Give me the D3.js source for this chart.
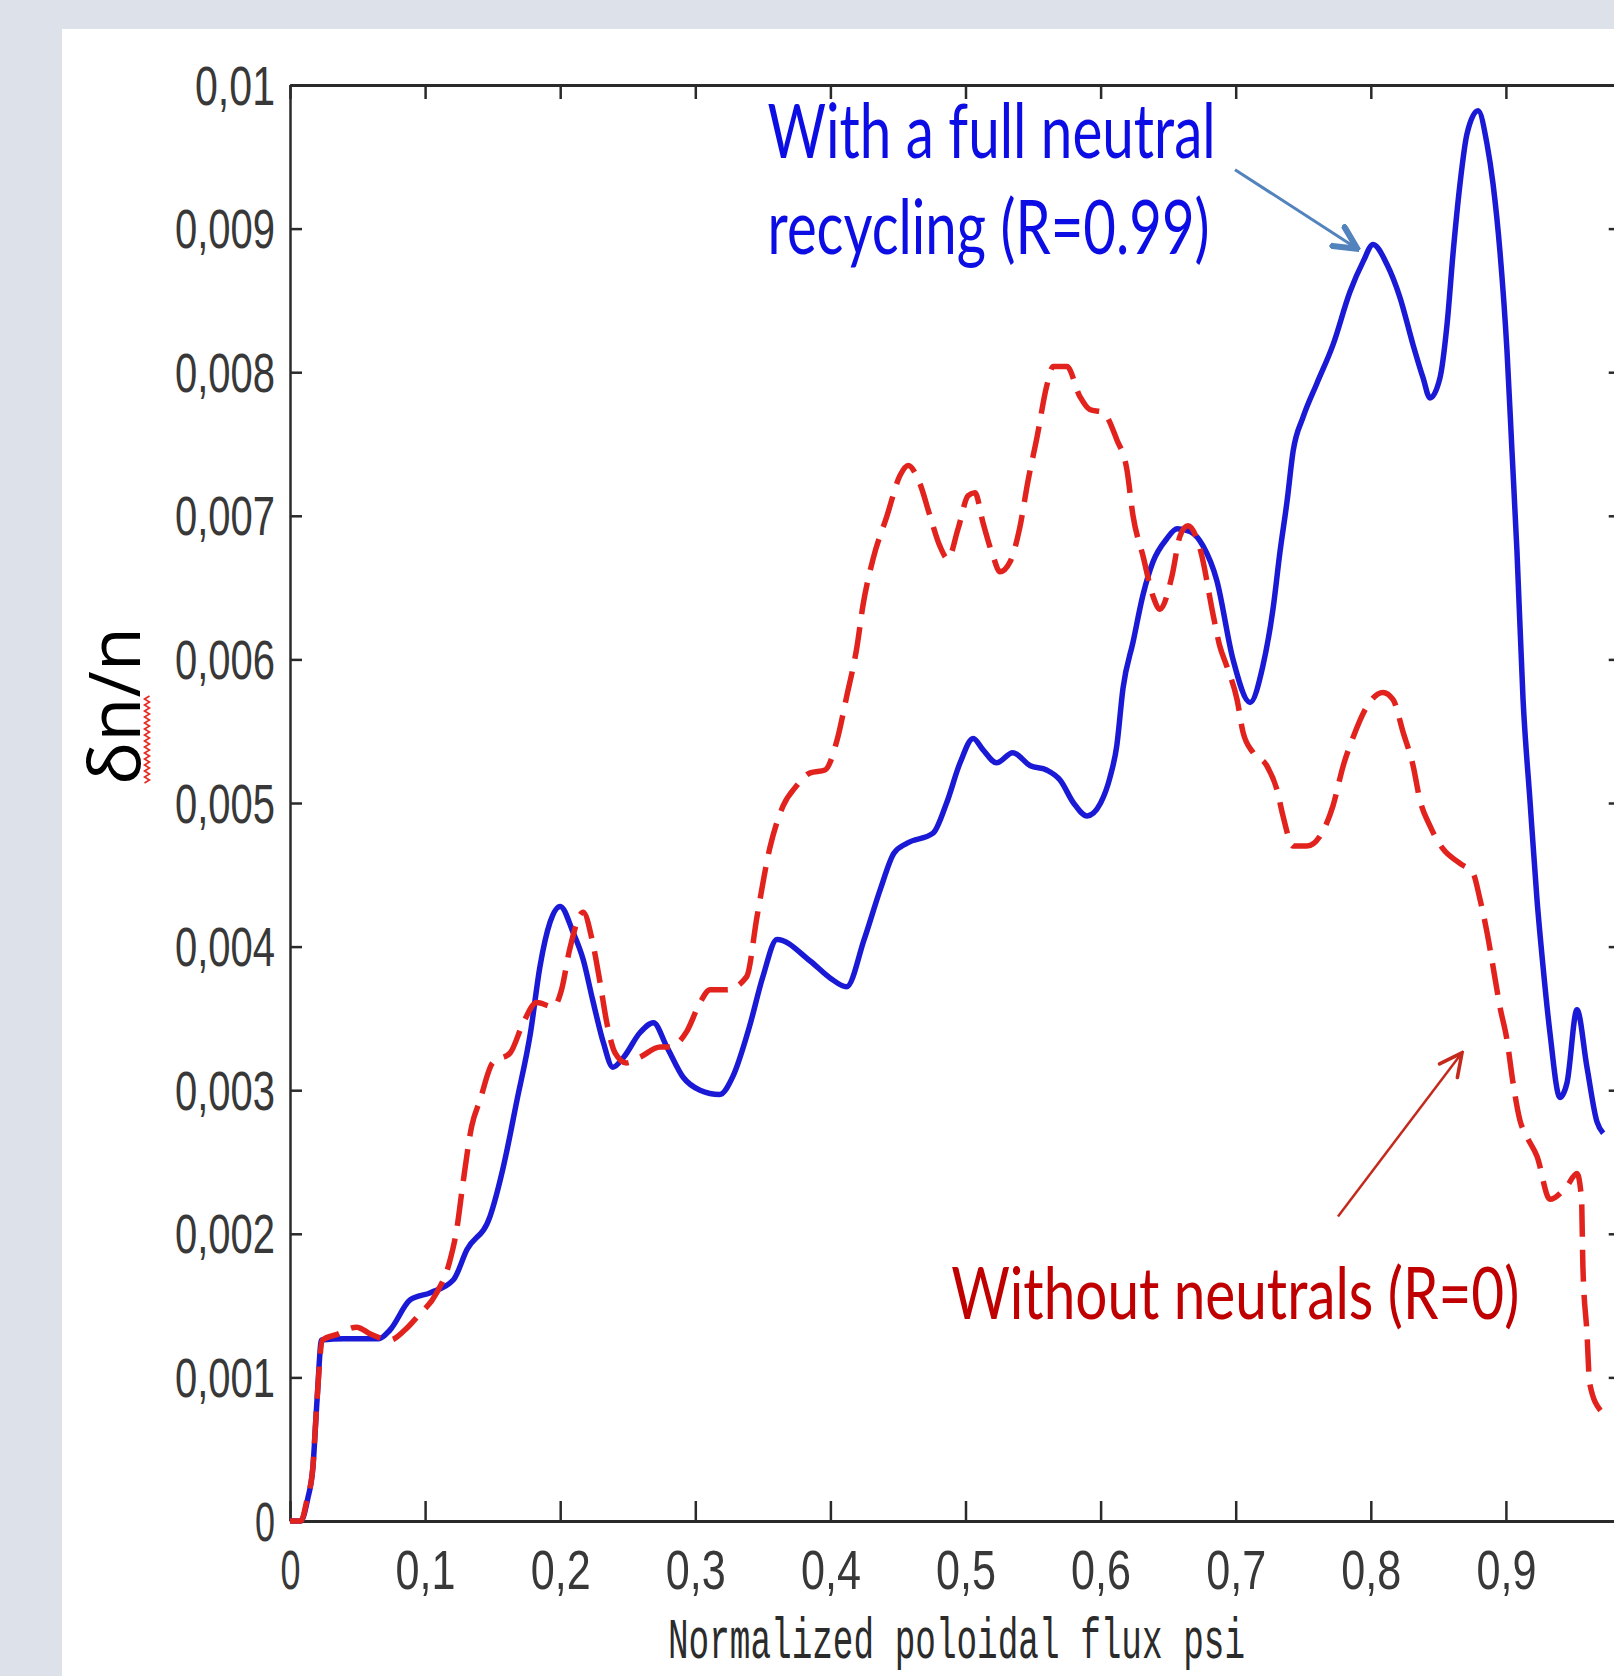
<!DOCTYPE html>
<html>
<head>
<meta charset="utf-8">
<script src="https://cdn.jsdelivr.net/npm/d3@7"></script>
<style>
  body { margin: 0; background: #dde2ea; }
</style>
</head>
<body>
<div id="chart"></div>
<script>
// psi values and dn/n values (dn/n in units of 1e-3)
var blueX = [0, 0.008, 0.013, 0.017, 0.020, 0.0234, 0.04, 0.066, 0.074, 0.089, 0.104, 0.121, 0.131, 0.148, 0.158, 0.168, 0.178, 0.185, 0.1925, 0.200,
  0.2095, 0.217, 0.224, 0.232, 0.239, 0.247, 0.259, 0.269, 0.279, 0.291, 0.3035, 0.318, 0.328, 0.340, 0.350, 0.3605, 0.385, 0.400, 0.412, 0.425,
  0.437, 0.447, 0.4567, 0.476, 0.486, 0.496, 0.5057, 0.513, 0.523, 0.535, 0.548, 0.560, 0.570, 0.580, 0.590, 0.600, 0.607, 0.612, 0.6166, 0.624,
  0.6314, 0.6388, 0.649, 0.6566, 0.6662, 0.6758, 0.686, 0.698, 0.7106, 0.720, 0.7276, 0.7328, 0.738, 0.7425, 0.750, 0.760, 0.772, 0.7846, 0.7943, 0.8017,
  0.812, 0.8216, 0.8313, 0.8387, 0.8438, 0.8512, 0.8564, 0.861, 0.866, 0.8712, 0.8794, 0.886, 0.8905, 0.8956, 0.9008, 0.9045, 0.9082, 0.9127, 0.9178, 0.9230,
  0.9275, 0.9326, 0.940, 0.9452, 0.9526, 0.960, 0.9674, 0.972];
var blueY = [0, 0, 0.15, 0.38, 0.84, 1.26, 1.27, 1.27, 1.33, 1.54, 1.59, 1.68, 1.89, 2.12, 2.47, 2.93, 3.40, 3.86, 4.17, 4.28,
  4.10, 3.91, 3.63, 3.33, 3.16, 3.23, 3.40, 3.47, 3.30, 3.09, 3.00, 2.97, 3.10, 3.44, 3.79, 4.05, 3.90, 3.78, 3.72, 4.05,
  4.40, 4.65, 4.72, 4.79, 5.00, 5.28, 5.45, 5.37, 5.28, 5.35, 5.26, 5.23, 5.16, 5.00, 4.91, 5.00, 5.18, 5.40, 5.80, 6.12,
  6.45, 6.68, 6.84, 6.91, 6.89, 6.79, 6.55, 6.00, 5.70, 5.95, 6.35, 6.75, 7.10, 7.45, 7.69, 7.92, 8.19, 8.56, 8.77, 8.89,
  8.75, 8.52, 8.19, 7.96, 7.82, 7.96, 8.33, 8.84, 9.31, 9.66, 9.82, 9.59, 9.31, 8.84, 8.15, 7.45, 6.75, 5.72, 5.02, 4.33,
  3.86, 3.40, 2.95, 3.05, 3.56, 3.16, 2.78, 2.70];

var redX = [0, 0.008, 0.0126, 0.017, 0.0185, 0.020, 0.024, 0.035, 0.0493, 0.060, 0.074, 0.085, 0.094, 0.1086, 0.118, 0.1234, 0.128, 0.1345, 0.1406, 0.150,
  0.163, 0.1727, 0.1826, 0.195, 0.201, 0.207, 0.217, 0.224, 0.2295, 0.2345, 0.2406, 0.249, 0.259, 0.274, 0.281, 0.2937, 0.3035, 0.311, 0.3235, 0.338,
  0.3457, 0.355, 0.365, 0.375, 0.385, 0.396, 0.405, 0.412, 0.4197, 0.424, 0.4316, 0.4419, 0.4515, 0.4575, 0.466, 0.4737, 0.481, 0.487, 0.4945, 0.502,
  0.507, 0.513, 0.5204, 0.5255, 0.533, 0.540, 0.5464, 0.553, 0.560, 0.565, 0.575, 0.5847, 0.592, 0.6018, 0.612, 0.6195, 0.624, 0.6314, 0.6388, 0.644,
  0.6528, 0.6588, 0.6647, 0.6736, 0.6835, 0.688, 0.6935, 0.701, 0.7055, 0.713, 0.723, 0.7306, 0.735, 0.7425, 0.7527, 0.7624, 0.772, 0.7796, 0.787, 0.797,
  0.809, 0.8165, 0.824, 0.8313, 0.8364, 0.8438, 0.8535, 0.866, 0.8757, 0.8808, 0.886, 0.8905, 0.8956, 0.9008, 0.9053, 0.9104, 0.9153, 0.923, 0.9326, 0.945,
  0.9526, 0.956, 0.957, 0.960, 0.962, 0.970];
var redY = [0, 0, 0.15, 0.38, 0.61, 0.84, 1.26, 1.30, 1.35, 1.30, 1.26, 1.33, 1.42, 1.59, 1.80, 2.03, 2.35, 2.75, 2.93, 3.19,
  3.26, 3.47, 3.61, 3.58, 3.70, 3.98, 4.24, 4.03, 3.75, 3.47, 3.26, 3.19, 3.23, 3.30, 3.30, 3.41, 3.61, 3.70, 3.70, 3.79,
  4.21, 4.68, 4.98, 5.12, 5.21, 5.23, 5.44, 5.74, 6.09, 6.37, 6.70, 7.00, 7.28, 7.35, 7.23, 7.00, 6.79, 6.70, 6.91, 7.14,
  7.16, 6.95, 6.72, 6.61, 6.68, 6.91, 7.25, 7.55, 7.90, 8.04, 8.04, 7.83, 7.74, 7.72, 7.53, 7.32, 7.00, 6.72, 6.44, 6.35,
  6.58, 6.86, 6.93, 6.77, 6.30, 6.10, 5.95, 5.72, 5.49, 5.35, 5.26, 5.09, 4.91, 4.70, 4.70, 4.77, 4.98, 5.26, 5.46, 5.67,
  5.77, 5.72, 5.49, 5.26, 5.02, 4.84, 4.68, 4.58, 4.51, 4.33, 4.10, 3.86, 3.58, 3.35, 3.05, 2.79, 2.68, 2.54, 2.24, 2.33,
  2.42, 2.24, 1.77, 1.31, 0.96, 0.77];

var xTicks = [0, 0.1, 0.2, 0.3, 0.4, 0.5, 0.6, 0.7, 0.8, 0.9];
var yTicks = [0, 1, 2, 3, 4, 5, 6, 7, 8, 9, 10];

var blueLabel = ["With a full neutral", "recycling (R=0.99)"];
var redLabel = "Without neutrals (R=0)";

var w = 1614;
var h = 1676;
var margin = { top: 85, left: 290, bottom: 155 };
var innerHeight = h - margin.top - margin.bottom;
var innerWidth = 1351; // psi = 1 sits past the window edge
var xMax = 0.985;      // right frame of the plot box

var charW = 20;        // tick glyphs are tall and narrow
var tickFont = "Liberation Sans, Arial, sans-serif";

var svg = d3.select("#chart")
  .append("svg")
  .attr("width", w)
  .attr("height", h);

svg.append("rect").attr("width", w).attr("height", h).attr("fill", "#dde2ea");
svg.append("rect").attr("x", 62).attr("y", 29).attr("width", w - 62).attr("height", h - 29).attr("fill", "#ffffff");

var xScale = d3.scaleLinear().domain([0, 1]).range([0, innerWidth]);
var yScale = d3.scaleLinear().domain([0, 10]).range([innerHeight, 0]);

var g = svg.append("g")
  .attr("transform", "translate(" + margin.left + "," + margin.top + ")");

var fmtY = function(d) { return d === 0 ? "0" : String(+(d / 1000).toFixed(3)).replace(".", ","); };
var fmtX = function(d) { return d === 0 ? "0" : String(d).replace(".", ","); };

// bottom axis
var xAxis = g.append("g")
  .attr("class", "x-axis")
  .attr("transform", "translate(0," + innerHeight + ")")
  .call(d3.axisBottom(xScale).tickValues(xTicks).tickSize(-20).tickSizeOuter(0).tickFormat(fmtX));

// top axis
var topAxis = g.append("g")
  .call(d3.axisTop(xScale).tickValues(xTicks).tickSize(-14).tickSizeOuter(0));

// left axis
var yAxis = g.append("g")
  .attr("class", "y-axis")
  .call(d3.axisLeft(yScale).tickValues(yTicks).tickSize(-12).tickSizeOuter(0).tickFormat(fmtY));

// right axis (only its ticks reach into the window)
var rightAxis = g.append("g")
  .attr("transform", "translate(" + xScale(xMax) + ",0)")
  .call(d3.axisRight(yScale).tickValues(yTicks).tickSize(-12).tickSizeOuter(0));

// the top and right frames carry no labels
topAxis.selectAll(".tick text").remove();
rightAxis.selectAll(".tick text").remove();

[xAxis, topAxis, yAxis, rightAxis].forEach(function(a) {
  a.select(".domain").attr("stroke", "#2a2a2a").attr("stroke-width", 3);
  a.selectAll(".tick line").attr("stroke", "#2a2a2a").attr("stroke-width", 2.5);
});
yAxis.select(".domain").attr("stroke-width", 2.5);

xAxis.selectAll(".tick text")
  .attr("y", 68)
  .attr("dy", null)
  .attr("font-family", tickFont)
  .attr("font-size", 55)
  .attr("fill", "#383838")
  .attr("textLength", d => fmtX(d).length * charW)
  .attr("lengthAdjust", "spacingAndGlyphs");

yAxis.selectAll(".tick text")
  .attr("x", -15)
  .attr("y", 19)
  .attr("dy", null)
  .attr("font-family", tickFont)
  .attr("font-size", 55)
  .attr("fill", "#383838")
  .attr("textLength", d => fmtY(d).length * charW)
  .attr("lengthAdjust", "spacingAndGlyphs");

// x axis title
g.append("text")
  .attr("x", 378)
  .attr("y", innerHeight + 137)
  .attr("font-family", "Liberation Mono, DejaVu Sans Mono, monospace")
  .attr("font-size", 58)
  .attr("fill", "#2b2b2b")
  .attr("textLength", 577)
  .attr("lengthAdjust", "spacingAndGlyphs")
  .text("Normalized poloidal flux psi");

// y axis title with its spell-check squiggle
var yTitle = svg.append("g")
  .attr("transform", "translate(140,706) rotate(-90)");
var yText = yTitle.append("text")
  .attr("text-anchor", "middle")
  .attr("font-family", "Open Sans, Noto Sans, sans-serif")
  .attr("font-size", 72)
  .attr("fill", "#000")
  .text("δn/n");
var tw = yText.node().getComputedTextLength();
var squiggle = [];
for (var i = 0; i <= 29; i++) {
  squiggle.push([-tw / 2 + 2 + i * 3, 7 + (i % 2 === 0 ? -2.5 : 2.5)]);
}
yTitle.append("path")
  .attr("d", d3.line()(squiggle))
  .attr("fill", "none")
  .attr("stroke", "#e8281e")
  .attr("stroke-width", 1.6);

// curves
var line = d3.line()
  .curve(d3.curveMonotoneX)
  .x(d => xScale(d[0]))
  .y(d => yScale(d[1]));

var blueData = blueX.map((x, i) => [x, blueY[i]]);
var redData = redX.map((x, i) => [x, redY[i]]);

g.append("path")
  .datum(blueData)
  .attr("d", line)
  .attr("fill", "none")
  .attr("stroke", "#1a1ad6")
  .attr("stroke-width", 5.5)
  .attr("stroke-linejoin", "round");

g.append("path")
  .datum(redData)
  .attr("d", line)
  .attr("fill", "none")
  .attr("stroke", "#e2231d")
  .attr("stroke-width", 5.5)
  .attr("stroke-dasharray", "32 13")
  .attr("stroke-linejoin", "round");

// annotations
var defs = svg.append("defs");
function arrowMarker(id, color, sw) {
  defs.append("marker")
    .attr("id", id)
    .attr("viewBox", "0 0 10 10")
    .attr("refX", 9)
    .attr("refY", 5)
    .attr("markerUnits", "userSpaceOnUse")
    .attr("markerWidth", 28)
    .attr("markerHeight", 28)
    .attr("orient", "auto")
    .append("path")
    .attr("d", "M1,1 L9,5 L1,9")
    .attr("fill", "none")
    .attr("stroke", color)
    .attr("stroke-width", sw)
    .attr("stroke-linecap", "round");
}
arrowMarker("arrowBlue", "#5383bd", 2.2);
arrowMarker("arrowRed", "#c42a1c", 1.3);

g.append("line")
  .attr("x1", xScale(0.6995)).attr("y1", yScale(9.41))
  .attr("x2", xScale(0.790)).attr("y2", yScale(8.86))
  .attr("stroke", "#5383bd")
  .attr("stroke-width", 3)
  .attr("marker-end", "url(#arrowBlue)");

g.append("line")
  .attr("x1", xScale(0.7757)).attr("y1", yScale(2.12))
  .attr("x2", xScale(0.8675)).attr("y2", yScale(3.26))
  .attr("stroke", "#c42a1c")
  .attr("stroke-width", 2.5)
  .attr("marker-end", "url(#arrowRed)");

g.selectAll(".blue-label")
  .data(blueLabel)
  .enter()
  .append("text")
  .attr("class", "blue-label")
  .attr("x", xScale(0.3535))
  .attr("y", (d, i) => yScale(9.49) + i * 96)
  .attr("font-family", "Lato, Carlito, sans-serif")
  .attr("font-size", 76)
  .attr("fill", "#0c0ce4")
  .attr("textLength", (d, i) => i === 0 ? 448 : 442)
  .attr("lengthAdjust", "spacingAndGlyphs")
  .text(d => d);

g.append("text")
  .attr("x", xScale(0.4895))
  .attr("y", yScale(1.41))
  .attr("font-family", "Lato, Carlito, sans-serif")
  .attr("font-size", 72)
  .attr("fill", "#c00000")
  .attr("textLength", 568)
  .attr("lengthAdjust", "spacingAndGlyphs")
  .text(redLabel);
</script>
</body>
</html>
